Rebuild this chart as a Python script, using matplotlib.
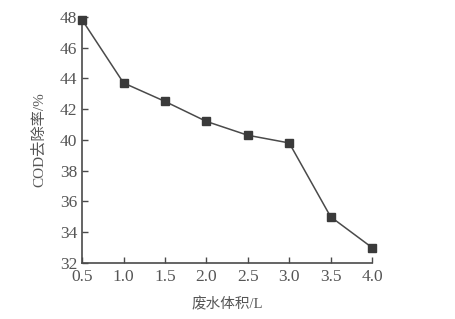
import matplotlib
matplotlib.use("Agg")
import matplotlib.pyplot as plt

volume = [0.5, 1.0, 1.5, 2.0, 2.5, 3.0, 3.5, 4.0]
cod_removal = [47.8, 43.7, 42.5, 41.2, 40.3, 39.8, 35.0, 33.0]
xticks = [0.5, 1.0, 1.5, 2.0, 2.5, 3.0, 3.5, 4.0]
yticks = [32, 34, 36, 38, 40, 42, 44, 46, 48]

plt.rcParams['font.family'] = ['Liberation Serif', 'Noto Sans CJK SC']

fig = plt.figure(figsize=(4.56, 3.19), dpi=100)
ax = fig.add_axes([0.18, 0.1755, 0.636, 0.772])
c = '#4a4a4a'
ax.plot(volume, cod_removal, color=c, lw=1.1, marker='s', ms=6,
        mfc='#3a3a3a', mec='#3a3a3a', clip_on=False, zorder=3)
ax.set_xlim(0.5, 4.0)
ax.set_ylim(32, 48)
ax.set_xticks(xticks)
ax.set_xticklabels([f"{v:.1f}" for v in xticks])
ax.set_yticks(yticks)
for s in ['top', 'right']:
    ax.spines[s].set_visible(False)
for s in ['left', 'bottom']:
    ax.spines[s].set_color(c)
    ax.spines[s].set_linewidth(1.2)
ax.tick_params(direction='in', length=4, width=1, colors=c, labelsize=12.5, labelcolor='#555555')
ax.tick_params(axis='x', pad=4)
ax.set_xlabel('废水体积/L', fontsize=10.5, color='#555555', labelpad=9)
ax.set_ylabel('COD去除率/%', fontsize=11, color='#555555', labelpad=10)
fig.savefig('out.png', dpi=100)
